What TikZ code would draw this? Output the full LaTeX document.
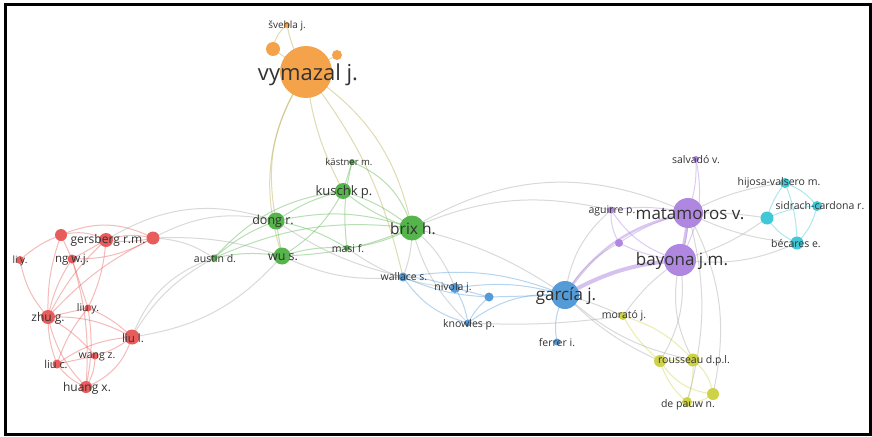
\documentclass[tikz,border=0pt]{standalone}
\usepackage{fontspec}
\setmainfont{Open Sans}
\definecolor{cOr}{RGB}{245,163,75}
\definecolor{cGr}{RGB}{85,180,75}
\definecolor{cRe}{RGB}{232,92,92}
\definecolor{cBl}{RGB}{85,155,215}
\definecolor{cPu}{RGB}{175,135,225}
\definecolor{cCy}{RGB}{65,200,215}
\definecolor{cYe}{RGB}{205,210,70}
\definecolor{cTx}{RGB}{50,50,50}
\tikzset{
  nd/.style={circle, inner sep=0pt, minimum size=#1, draw=none},
  lbl/.style={text=cTx, inner sep=0pt, font=\fontsize{#1}{#1}\selectfont},
  ed/.style={draw=#1, draw opacity=0.42, line width=1pt},
  eO/.style={ed=cOr!60!cGr},
  eG/.style={ed=cGr},
  eR/.style={ed=cRe},
  eB/.style={ed=cBl},
  eP/.style={ed=cPu},
  eC/.style={ed=cCy},
  eY/.style={ed=cYe},
  eX/.style={ed=gray!70},
}
\begin{document}
\begin{tikzpicture}[x=1pt,y=-1pt]
\useasboundingbox (0,0) rectangle (872,436);
\fill[white] (0,0) rectangle (872,436);
% coordinates
\coordinate (vym) at (306,72);
\coordinate (sve) at (287,25);
\coordinate (ora1) at (273,49);
\coordinate (ora2) at (337,55);
\coordinate (kas) at (352,162);
\coordinate (kus) at (343,191);
\coordinate (don) at (276,221);
\coordinate (bri) at (412,228);
\coordinate (wus) at (282,256);
\coordinate (mas) at (347,248);
\coordinate (aus) at (214,258);
\coordinate (wal) at (403,277);
\coordinate (niv) at (455,288);
\coordinate (blu1) at (489,297);
\coordinate (kno) at (468,323);
\coordinate (gar) at (565,295);
\coordinate (fer) at (557,342);
\coordinate (mor) at (623,316);
\coordinate (rou) at (693,360);
\coordinate (yel1) at (660,361);
\coordinate (dep) at (687,402);
\coordinate (yel2) at (713,394);
\coordinate (sal) at (696,159);
\coordinate (mat) at (688,213);
\coordinate (agu) at (611,210);
\coordinate (pur1) at (619,243);
\coordinate (bay) at (680,260);
\coordinate (hij) at (785,183);
\coordinate (sid) at (817,206);
\coordinate (cya1) at (767,218);
\coordinate (bec) at (797,243);
\coordinate (red1) at (61,235);
\coordinate (ger) at (106,240);
\coordinate (red2) at (153,238);
\coordinate (liy) at (20,260);
\coordinate (ngw) at (72,259);
\coordinate (liuy) at (88,308);
\coordinate (zhu) at (48,317);
\coordinate (liul) at (132,337);
\coordinate (wan) at (95,356);
\coordinate (liuc) at (57,364);
\coordinate (hua) at (86,387);
% ---------- edges ----------
% orange
\draw[eO] (vym) to[bend left=10] (sve);
\draw[eO] (ora1) to[bend left=20] (sve);
\draw[eO] (vym) to (ora1);
\draw[eO] (vym) to (ora2);
\draw[eO] (vym) to[bend right=22] (don);
\draw[eO] (vym) to[bend right=25] (wus);
\draw[eO] (vym) to[bend right=10] (kus);
\draw[eO] (vym) to[bend left=22] (bri);
\draw[eO] (vym) to[bend left=12] (wal);
% red internal
\draw[eR] (red1) to[bend left=20] (ger);
\draw[eR] (red1) to[bend left=25] (red2);
\draw[eR] (ger) to[bend left=15] (red2);
\draw[eR] (ger) to[bend right=10] (red2);
\draw[eR] (red1) to[bend right=10] (liy);
\draw[eR] (red1) to (ngw);
\draw[eR] (red1) to[bend right=10] (zhu);
\draw[eR] (ger) to (ngw);
\draw[eR] (ger) to[bend right=10] (zhu);
\draw[eR] (ger) to[bend left=10] (liuy);
\draw[eR] (red2) to[bend left=15] (ngw);
\draw[eR] (red2) to[bend right=10] (zhu);
\draw[eR] (liy) to[bend right=15] (zhu);
\draw[eR] (ngw) to[bend right=10] (zhu);
\draw[eR] (ngw) to (liuy);
\draw[eR] (ngw) to[bend left=10] (hua);
\draw[eR] (zhu) to (liuy);
\draw[eR] (zhu) to[bend left=15] (liul);
\draw[eR] (zhu) to[bend right=10] (liuc);
\draw[eR] (zhu) to[bend right=15] (hua);
\draw[eR] (zhu) to[bend left=10] (wan);
\draw[eR] (liuy) to[bend left=10] (liul);
\draw[eR] (liuy) to[bend left=10] (hua);
\draw[eR] (liuy) to[bend right=10] (liuc);
\draw[eR] (liul) to[bend right=15] (liuc);
\draw[eR] (liul) to[bend left=25] (hua);
\draw[eR] (liul) to[bend left=10] (wan);
\draw[eR] (wan) to[bend left=15] (hua);
\draw[eR] (wan) to (liuc);
\draw[eR] (liuc) to[bend right=15] (hua);
% red - green
\draw[eX] (red2) to[bend left=20] (don);
\draw[eX] (red2) to[bend left=10] (wus);
\draw[eX] (red2) to[bend left=15] (aus);
\draw[eX] (ger) to[bend left=25] (don);
\draw[eX] (liul) to[bend left=15] (aus);
\draw[eX] (liul) to[bend left=25] (aus);
\draw[eX] (liul) to[bend right=20] (wus);
% green
\draw[eG] (don) to[bend left=10] (kus);
\draw[eG] (don) to[bend left=15] (bri);
\draw[eG] (don) to (wus);
\draw[eG] (don) to[bend right=10] (aus);
\draw[eG] (don) to[bend left=10] (mas);
\draw[eG] (wus) to[bend right=15] (kus);
\draw[eG] (wus) to[bend right=10] (bri);
\draw[eG] (wus) to[bend left=10] (mas);
\draw[eG] (wus) to[bend right=10] (aus);
\draw[eG] (kus) to[bend left=10] (bri);
\draw[eG] (kus) to[bend right=10] (bri);
\draw[eG] (kus) to (kas);
\draw[eG] (kas) to[bend left=25] (bri);
\draw[eG] (kas) to[bend right=10] (mas);
\draw[eG] (mas) to[bend right=10] (bri);
\draw[eG] (aus) to[bend left=20] (kus);
\draw[eG] (aus) to[bend left=15] (bri);
% green - blue / far
\draw[eX] (bri) to[bend left=10] (wal);
\draw[eX] (bri) to[bend left=15] (niv);
\draw[eX] (bri) to[bend left=10] (gar);
\draw[eX] (wus) to[bend right=15] (wal);
\draw[eX] (don) to[bend right=10] (wal);
\draw[eX] (bri) to[bend right=15] (kno);
\draw[eX] (bri) to[bend left=28] (mat);
\draw[eX] (bri) to[bend left=18] (agu);
\draw[eX] (mas) to[bend right=15] (niv);
% blue
\draw[eB] (wal) to[bend left=10] (niv);
\draw[eB] (wal) to[bend right=10] (blu1);
\draw[eB] (wal) to[bend left=15] (gar);
\draw[eB] (wal) to[bend right=20] (kno);
\draw[eB] (niv) to (blu1);
\draw[eB] (niv) to[bend left=10] (kno);
\draw[eB] (niv) to[bend left=12] (gar);
\draw[eB] (blu1) to (gar);
\draw[eB] (kno) to[bend left=20] (gar);
\draw[eB] (kno) to[bend left=10] (blu1);
\draw[eB] (gar) to[bend right=20] (fer);
\draw[eX] (gar) to[bend left=5] (mor);
\draw[eX] (gar) to[bend right=15] (rou);
\draw[eX] (gar) to[bend right=10] (yel1);
\draw[eX] (gar) to[bend left=20] (agu);
\draw[eX] (gar) to[bend left=15] (pur1);
\draw[eX] (kno) to[bend right=5] (mor);
\draw[ed=cPu, draw opacity=0.5, line width=4pt] (gar) to[bend left=12] (bay);
\draw[ed=cPu, draw opacity=0.45, line width=2.5pt] (gar) to[bend left=22] (mat);
% purple
\draw[ed=cPu, draw opacity=0.5, line width=3pt] (mat) to[bend left=5] (bay);
\draw[eP] (mat) to[bend left=10] (bay);
\draw[eP] (mat) to[bend right=10] (sal);
\draw[eP] (mat) to[bend right=10] (agu);
\draw[eP] (mat) to[bend right=10] (pur1);
\draw[eP] (bay) to[bend left=10] (pur1);
\draw[eP] (agu) to[bend right=15] (pur1);
\draw[eP] (agu) to[bend right=20] (bay);
\draw[eP] (sal) to[bend left=20] (bay);
\draw[eX] (mat) to[bend left=10] (hij);
\draw[eX] (mat) to[bend left=5] (cya1);
\draw[eX] (mat) to[bend right=10] (bec);
\draw[eX] (bay) to[bend right=15] (bec);
\draw[eX] (bay) to[bend right=10] (cya1);
\draw[eX] (bay) to[bend right=20] (rou);
\draw[eX] (bay) to[bend left=20] (yel1);
\draw[eX] (mat) to[bend left=15] (dep);
\draw[eX] (mat) to[bend left=20] (yel2);
\draw[eX] (bay) to[bend right=10] (mor);
% cyan
\draw[eC] (hij) to[bend left=15] (sid);
\draw[eC] (hij) to[bend right=10] (cya1);
\draw[eC] (hij) to[bend left=10] (bec);
\draw[eC] (sid) to[bend left=15] (bec);
\draw[eC] (sid) to[bend right=10] (cya1);
\draw[eC] (cya1) to[bend right=15] (bec);
% yellow
\draw[eY] (mor) to[bend left=15] (rou);
\draw[eY] (mor) to[bend right=10] (yel1);
\draw[eY] (yel1) to (rou);
\draw[eY] (yel1) to[bend right=15] (dep);
\draw[eY] (rou) to[bend left=10] (dep);
\draw[eY] (rou) to[bend left=20] (yel2);
\draw[eY] (dep) to[bend right=20] (yel2);
\draw[eY] (yel1) to[bend right=25] (yel2);
% ---------- nodes ----------
\node[nd=52pt, fill=cOr] (vymN) at (vym) {};
\node[nd=6pt, fill=cOr] (sveN) at (sve) {};
\node[nd=14pt, fill=cOr] (ora1N) at (ora1) {};
\node[nd=10pt, fill=cOr] (ora2N) at (ora2) {};
\node[nd=6pt, fill=cGr] (kasN) at (kas) {};
\node[nd=16pt, fill=cGr] (kusN) at (kus) {};
\node[nd=17pt, fill=cGr] (donN) at (don) {};
\node[nd=25pt, fill=cGr] (briN) at (bri) {};
\node[nd=17pt, fill=cGr] (wusN) at (wus) {};
\node[nd=6pt, fill=cGr] (masN) at (mas) {};
\node[nd=7pt, fill=cGr] (ausN) at (aus) {};
\node[nd=9pt, fill=cBl] (walN) at (wal) {};
\node[nd=10pt, fill=cBl] (nivN) at (niv) {};
\node[nd=9pt, fill=cBl] (blu1N) at (blu1) {};
\node[nd=7pt, fill=cBl] (knoN) at (kno) {};
\node[nd=28pt, fill=cBl] (garN) at (gar) {};
\node[nd=7pt, fill=cBl] (ferN) at (fer) {};
\node[nd=8pt, fill=cYe] (morN) at (mor) {};
\node[nd=13pt, fill=cYe] (rouN) at (rou) {};
\node[nd=12pt, fill=cYe] (yel1N) at (yel1) {};
\node[nd=10pt, fill=cYe] (depN) at (dep) {};
\node[nd=12pt, fill=cYe] (yel2N) at (yel2) {};
\node[nd=6pt, fill=cPu] (salN) at (sal) {};
\node[nd=30pt, fill=cPu] (matN) at (mat) {};
\node[nd=7pt, fill=cPu] (aguN) at (agu) {};
\node[nd=8pt, fill=cPu] (pur1N) at (pur1) {};
\node[nd=32pt, fill=cPu] (bayN) at (bay) {};
\node[nd=10pt, fill=cCy] (hijN) at (hij) {};
\node[nd=10pt, fill=cCy] (sidN) at (sid) {};
\node[nd=13pt, fill=cCy] (cya1N) at (cya1) {};
\node[nd=13pt, fill=cCy] (becN) at (bec) {};
\node[nd=12pt, fill=cRe] (red1N) at (red1) {};
\node[nd=14pt, fill=cRe] (gerN) at (ger) {};
\node[nd=13pt, fill=cRe] (red2N) at (red2) {};
\node[nd=8pt, fill=cRe] (liyN) at (liy) {};
\node[nd=9pt, fill=cRe] (ngwN) at (ngw) {};
\node[nd=7pt, fill=cRe] (liuyN) at (liuy) {};
\node[nd=14pt, fill=cRe] (zhuN) at (zhu) {};
\node[nd=15pt, fill=cRe] (liulN) at (liul) {};
\node[nd=7pt, fill=cRe] (wanN) at (wan) {};
\node[nd=9pt, fill=cRe] (liucN) at (liuc) {};
\node[nd=12pt, fill=cRe] (huaN) at (hua) {};
% ---------- labels ----------
\node[lbl=22] (vymL) at (308,75) {vymazal j.};
\node[lbl=10] (sveL) at (287,26) {švehla j.};
\node[lbl=9.5] (kasL) at (349,162) {kästner m.};
\node[lbl=13] (kusL) at (344,192) {kuschk p.};
\node[lbl=12.5] (donL) at (273,221) {dong r.};
\node[lbl=15.5] (briL) at (413,229) {brix h.};
\node[lbl=12.5] (wusL) at (283,257) {wu s.};
\node[lbl=10.5] (masL) at (348,249) {masi f.};
\node[lbl=10.5] (ausL) at (215,259) {austin d.};
\node[lbl=10.5] (walL) at (404,277) {wallace s.};
\node[lbl=10.5] (nivL) at (453,288) {nivola j.};
\node[lbl=10.5] (knoL) at (469,325) {knowles p.};
\node[lbl=17] (garL) at (566,296) {garcía j.};
\node[lbl=10.5] (ferL) at (557,343) {ferrer i.};
\node[lbl=10.5] (morL) at (624,316) {morató j.};
\node[lbl=10.5] (rouL) at (694,361) {rousseau d.p.l.};
\node[lbl=10.5] (depL) at (688,405) {de pauw n.};
\node[lbl=10.5] (salL) at (696,160) {salvadó v.};
\node[lbl=17] (matL) at (690,214) {matamoros v.};
\node[lbl=10.5] (aguL) at (612,211) {aguirre p.};
\node[lbl=17] (bayL) at (682,261) {bayona j.m.};
\node[lbl=10.5] (hijL) at (779,183) {hijosa-valsero m.};
\node[lbl=10.5] (sidL) at (820,206) {sidrach-cardona r.};
\node[lbl=10.5] (becL) at (796,244) {bécares e.};
\node[lbl=12] (gerL) at (108,240) {gersberg r.m.};
\node[lbl=10] (liyL) at (20,261) {li y.};
\node[lbl=11.5] (ngwL) at (72,260) {ng w.j.};
\node[lbl=10.5] (liuyL) at (88,309) {liu y.};
\node[lbl=12] (zhuL) at (48,318) {zhu g.};
\node[lbl=11.5] (liulL) at (133,338) {liu l.};
\node[lbl=10.5] (wanL) at (97,357) {wang z.};
\node[lbl=11] (liucL) at (56,364) {liu c.};
\node[lbl=12] (huaL) at (87,388) {huang x.};
% frame
\draw[line width=2.5pt] (5.3,4.3) rectangle (870.7,434.7);
\end{tikzpicture}
\end{document}
